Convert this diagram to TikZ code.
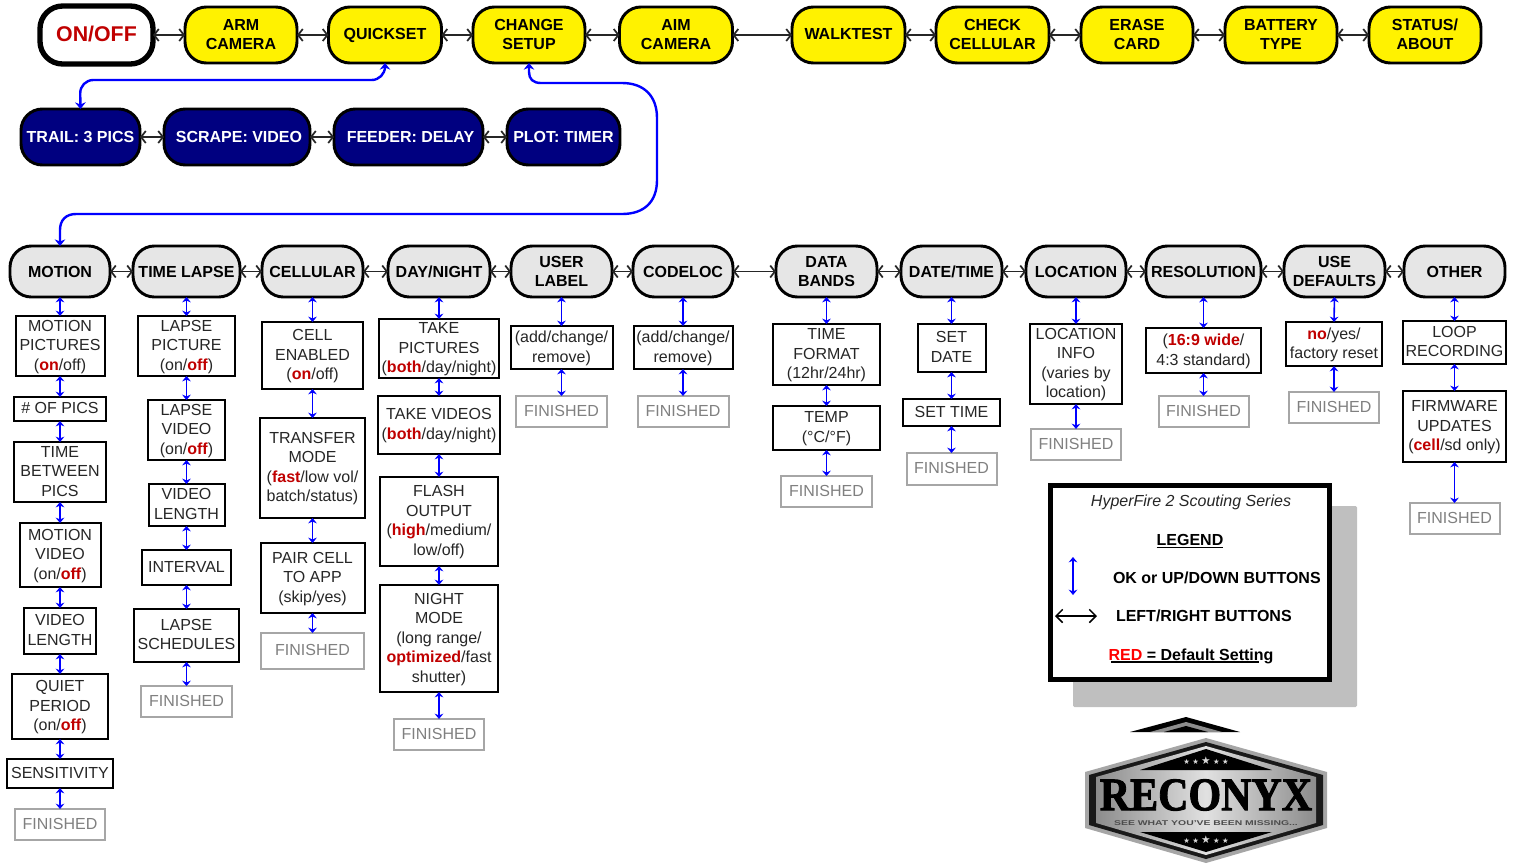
\documentclass[tikz,border=0pt]{standalone}
\usepackage{fontspec}
\setmainfont{Liberation Sans}
\newfontfamily\logofont[BoldFeatures={FakeBold=2}]{Liberation Serif}
\newfontfamily\starfont{DejaVu Sans}
\usetikzlibrary{arrows.meta}
\definecolor{dred}{HTML}{C00000}
\definecolor{navyfill}{HTML}{000080}
\definecolor{headgray}{HTML}{E6E6E6}
\definecolor{arrowblue}{HTML}{0000FF}
\newcommand{\rd}[1]{\textcolor{dred}{\textbf{#1}}}
% \bx{style}{name}{centre x}{width}{top}{bottom}{text}
\newcommand{\bx}[7]{\node[#1,minimum width=#4*.75pt,minimum height=(#6-#5)*.75pt] (#2) at (#3,{(#5+#6)/2}) {#7};}
\tikzset{
  x=.75pt,y=-.75pt,
  basenode/.style={align=center,inner sep=0pt,outer sep=0pt,text depth=1.4pt},
  yelnode/.style={basenode,draw=black,line width=2.2pt,fill=yellow,rounded corners=16pt,font=\fontsize{12}{14.2}\selectfont\bfseries},
  onnode/.style={basenode,draw=black,line width=4pt,fill=white,rounded corners=17pt,text=dred,font=\fontsize{16}{18}\selectfont\bfseries},
  navynode/.style={basenode,text depth=0pt,draw=black,line width=2.2pt,fill=navyfill,text=white,rounded corners=16pt,font=\fontsize{12}{14.2}\selectfont\bfseries},
  graynode/.style={basenode,text depth=0pt,draw=black,line width=2.2pt,fill=headgray,rounded corners=16pt,font=\fontsize{12}{14.8}\selectfont\bfseries},
  setbox/.style={basenode,draw=black,line width=1.5pt,fill=white,text=black!85,font=\fontsize{12}{14.6}\selectfont},
  finbox/.style={basenode,draw=black!35,line width=1.5pt,fill=white,text=black!50,font=\fontsize{12}{14.6}\selectfont},
  hlink/.style={black!85,line width=1.3pt,{Straight Barb[length=3.5pt,width=9pt]}-{Straight Barb[length=3.5pt,width=9pt]}},
  vlink/.style={arrowblue,line width=1.2pt,{Stealth[length=4pt,width=6.5pt]}-{Stealth[length=4pt,width=6.5pt]}},
  buslink/.style={arrowblue,line width=1.8pt,{Stealth[length=5pt,width=8pt]}-{Stealth[length=5pt,width=8pt]}},
  legtext/.style={inner sep=0pt,outer sep=0pt,text=black,font=\fontsize{12}{14}\selectfont\bfseries},
}
\begin{document}
\begin{tikzpicture}
\useasboundingbox (0,0) rectangle (1518,865);
% top row
\bx{onnode}{onoff}{96.5}{113}{6}{64}{ON/OFF}
\bx{yelnode}{arm}{241}{112}{7}{63}{ARM\\CAMERA}
\bx{yelnode}{quick}{385}{113}{7}{63}{QUICKSET}
\bx{yelnode}{change}{529}{112}{7}{63}{CHANGE\\SETUP}
\bx{yelnode}{aim}{676}{113}{7}{63}{AIM\\CAMERA}
\bx{yelnode}{walk}{848.5}{113}{7}{63}{WALKTEST}
\bx{yelnode}{check}{992.5}{113}{7}{63}{CHECK\\CELLULAR}
\bx{yelnode}{erase}{1137}{112}{7}{63}{ERASE\\CARD}
\bx{yelnode}{batt}{1281}{112}{7}{63}{BATTERY\\TYPE}
\bx{yelnode}{status}{1425}{112}{7}{63}{STATUS/\\ABOUT}
\foreach \a/\b in {onoff/arm,arm/quick,quick/change,change/aim,aim/walk,walk/check,check/erase,erase/batt,batt/status}
  \draw[hlink] (\a.east) -- (\b.west);
% quickset row
\bx{navynode}{trail}{80.5}{119}{109}{165}{TRAIL: 3 PICS}
\bx{navynode}{scrape}{237}{146}{109}{165}{\hspace*{3pt}SCRAPE: VIDEO}
\bx{navynode}{feeder}{408.5}{149}{109}{165}{\hspace*{3pt}FEEDER: DELAY}
\bx{navynode}{plot}{563.5}{113}{109}{165}{PLOT: TIMER}
\foreach \a/\b in {trail/scrape,scrape/feeder,feeder/plot}
  \draw[hlink] (\a.east) -- (\b.west);
% setup headers
\bx{graynode}{motion}{60}{100}{246}{297}{MOTION}
\bx{graynode}{lapse}{186.5}{107}{246}{297}{TIME LAPSE}
\bx{graynode}{cell}{312.5}{101}{246}{297}{CELLULAR}
\bx{graynode}{day}{439}{102}{246}{297}{DAY/NIGHT}
\bx{graynode}{user}{561.5}{101}{246}{297}{USER\\LABEL}
\bx{graynode}{code}{683}{100}{246}{297}{CODELOC}
\bx{graynode}{bands}{826.5}{101}{246}{297}{DATA\\BANDS}
\bx{graynode}{date}{951.5}{101}{246}{297}{DATE/TIME}
\bx{graynode}{loc}{1076}{100}{246}{297}{LOCATION}
\bx{graynode}{res}{1203.5}{115}{246}{297}{RESOLUTION}
\bx{graynode}{defs}{1334.5}{101}{246}{297}{USE\\DEFAULTS}
\bx{graynode}{other}{1454.5}{101}{246}{297}{OTHER}
\foreach \a/\b in {motion/lapse,lapse/cell,cell/day,day/user,user/code,code/bands,bands/date,date/loc,loc/res,res/defs,defs/other}
  \draw[hlink] (\a.east) -- (\b.west);
% column 1
\bx{setbox}{a1}{60}{89}{316}{376}{MOTION\\PICTURES\\(\rd{on}/off)}
\bx{setbox}{a2}{60}{92}{397}{421}{\# OF PICS}
\bx{setbox}{a3}{60}{92}{442}{502}{TIME\\BETWEEN\\PICS}
\bx{setbox}{a4}{60}{81}{523}{587}{MOTION\\VIDEO\\(on/\rd{off})}
\bx{setbox}{a5}{60}{72}{608}{654}{VIDEO\\LENGTH}
\bx{setbox}{a6}{60}{96}{674}{739}{QUIET\\PERIOD\\(on/\rd{off})}
\bx{setbox}{a7}{60}{106}{759}{788}{SENSITIVITY}
\bx{finbox}{a8}{60}{90}{809}{840}{FINISHED}
\foreach \a/\b in {motion/a1,a1/a2,a2/a3,a3/a4,a4/a5,a5/a6,a6/a7,a7/a8}
  \draw[vlink] (\a.south) -- (\b.north);
% column 2
\bx{setbox}{b1}{186.5}{97}{316}{376}{LAPSE\\PICTURE\\(on/\rd{off})}
\bx{setbox}{b2}{186.5}{77}{400}{460}{LAPSE\\VIDEO\\(on/\rd{off})}
\bx{setbox}{b3}{186.5}{76}{484}{526}{VIDEO\\LENGTH}
\bx{setbox}{b4}{186.5}{89}{550}{585}{INTERVAL}
\bx{setbox}{b5}{186.5}{105}{609}{662}{LAPSE\\SCHEDULES}
\bx{finbox}{b6}{186.5}{91}{686}{717}{FINISHED}
\foreach \a/\b in {lapse/b1,b1/b2,b2/b3,b3/b4,b4/b5,b5/b6}
  \draw[vlink] (\a.south) -- (\b.north);
% column 3
\bx{setbox}{c1}{312.5}{101}{322}{389}{CELL\\ENABLED\\(\rd{on}/off)}
\bx{setbox}{c2}{312.5}{105}{418}{518}{TRANSFER\\MODE\\(\rd{fast}/low vol/\\batch/status)}
\bx{setbox}{c3}{312.5}{104}{543}{613}{PAIR CELL\\TO APP\\(skip/yes)}
\bx{finbox}{c4}{312.5}{103}{633}{669}{FINISHED}
\foreach \a/\b in {cell/c1,c1/c2,c2/c3,c3/c4}
  \draw[vlink] (\a.south) -- (\b.north);
% column 4
\bx{setbox}{d1}{439}{120}{319}{378}{TAKE\\PICTURES\\(\rd{both}/day/night)}
\bx{setbox}{d2}{439}{122}{396}{454}{TAKE VIDEOS\\(\rd{both}/day/night)}
\bx{setbox}{d3}{439}{118}{477}{566}{FLASH\\OUTPUT\\(\rd{high}/medium/\\low/off)}
\bx{setbox}{d4}{439}{118}{585}{692}{NIGHT\\MODE\\(long range/\\\rd{optimized}/fast\\shutter)}
\bx{finbox}{d5}{439}{90}{719}{750}{FINISHED}
\foreach \a/\b in {day/d1,d1/d2,d2/d3,d3/d4,d4/d5}
  \draw[vlink] (\a.south) -- (\b.north);
% column 5
\bx{setbox}{e1}{561.5}{102}{326}{369}{(add/change/\\remove)}
\bx{finbox}{e2}{561.5}{91}{396}{427}{FINISHED}
\foreach \a/\b in {user/e1,e1/e2}
  \draw[vlink] (\a.south) -- (\b.north);
% column 6
\bx{setbox}{f1}{683}{99}{326}{369}{(add/change/\\remove)}
\bx{finbox}{f2}{683}{91}{396}{427}{FINISHED}
\foreach \a/\b in {code/f1,f1/f2}
  \draw[vlink] (\a.south) -- (\b.north);
% column 7
\bx{setbox}{g1}{826.5}{107}{324}{385}{TIME\\FORMAT\\(12hr/24hr)}
\bx{setbox}{g2}{826.5}{107}{406}{450}{TEMP\\(°C/°F)}
\bx{finbox}{g3}{826.5}{91}{476}{507}{FINISHED}
\foreach \a/\b in {bands/g1,g1/g2,g2/g3}
  \draw[vlink] (\a.south) -- (\b.north);
% column 8
\bx{setbox}{h1}{951.5}{68}{324}{372}{SET\\DATE}
\bx{setbox}{h2}{951.5}{97}{399}{426}{SET TIME}
\bx{finbox}{h3}{951.5}{90}{453}{485}{FINISHED}
\foreach \a/\b in {date/h1,h1/h2,h2/h3}
  \draw[vlink] (\a.south) -- (\b.north);
% column 9
\bx{setbox}{i1}{1076}{92}{324}{404}{LOCATION\\INFO\\(varies by\\location)}
\bx{finbox}{i2}{1076}{90}{429}{460}{FINISHED}
\foreach \a/\b in {loc/i1,i1/i2}
  \draw[vlink] (\a.south) -- (\b.north);
% column 10
\bx{setbox}{j1}{1203.5}{115}{328}{373}{(\rd{16:9 wide}/\\4:3 standard)}
\bx{finbox}{j2}{1203.5}{90}{396}{427}{FINISHED}
\foreach \a/\b in {res/j1,j1/j2}
  \draw[vlink] (\a.south) -- (\b.north);
% column 11
\bx{setbox}{k1}{1334}{96}{322}{366}{\rd{no}/yes/\\factory reset}
\bx{finbox}{k2}{1334}{90}{392}{423}{FINISHED}
\foreach \a/\b in {defs/k1,k1/k2}
  \draw[vlink] (\a.south) -- (\b.north);
% column 12
\bx{setbox}{l1}{1454.5}{103}{321}{364}{LOOP\\RECORDING}
\bx{setbox}{l2}{1454.5}{103}{391}{462}{FIRMWARE\\UPDATES\\(\rd{cell}/sd only)}
\bx{finbox}{l3}{1454.5}{90}{503}{534}{FINISHED}
\foreach \a/\b in {other/l1,l1/l2,l2/l3}
  \draw[vlink] (\a.south) -- (\b.north);
% long blue links
\draw[buslink,rounded corners=10pt] (quick.south) |- (80,80) -- (trail.north);
\draw[buslink] (change.south) -- (529,72) .. controls (529,79) and (533,83) .. (541,83)
  -- (622,83) .. controls (644,83) and (657,96) .. (657,118)
  -- (657,180) .. controls (657,202) and (644,214) .. (622,214)
  -- (76,214) .. controls (66,214) and (60,220) .. (60,230) -- (motion.north);
% legend
\fill[black!25,rounded corners=1pt] (1073,506) rectangle (1357,707);
\node[basenode,draw=black,line width=3.8pt,fill=white,minimum width=279*.75pt,minimum height=194*.75pt] (legend) at (1190,582.5) {};
\node[legtext,font=\fontsize{12}{14}\selectfont\itshape,text=black!85] (lt1) at (1191,502) {HyperFire 2 Scouting Series};
\node[legtext] (lt2) at (1190,541) {\underline{LEGEND}};
\coordinate (lu) at (1073,557); \coordinate (ld) at (1073,595);
\draw[vlink] (lu) -- (ld);
\node[legtext,anchor=west] (lt3) at (1113,578) {OK or UP/DOWN BUTTONS};
\coordinate (ll) at (1055,616); \coordinate (lr) at (1097,616);
\draw[black,line width=1.1pt,{Straight Barb[length=5pt,width=10pt]}-{Straight Barb[length=5pt,width=10pt]}] (ll) -- (lr);
\node[legtext,anchor=west] (lt4) at (1116,616) {LEFT/RIGHT BUTTONS};
\node[legtext] (lt5) at (1191,656) {\textcolor{red}{RED} = Default Setting};
\draw[black,line width=1.2pt] (1111,662) -- (1259,662);
% logo
\fill[black] (1186,717) -- (1240,732) -- (1130,732) -- cycle;
\fill[black!45] (1186,722) -- (1222,732) -- (1150,732) -- cycle;
\fill[black] (1186,726) -- (1208,732) -- (1164,732) -- cycle;
\fill[black!35] (1206,738) -- (1327,772) -- (1327,828) -- (1206,863) -- (1085,828) -- (1085,772) -- cycle;
\fill[black!90] (1206,742) -- (1323,775) -- (1323,825) -- (1206,859) -- (1089,825) -- (1089,775) -- cycle;
\shade[left color=black!45,right color=black!45,middle color=black!12] (1206,746) -- (1316,777) -- (1316,823) -- (1206,855) -- (1096,823) -- (1096,777) -- cycle;
\fill[black] (1206,749) -- (1272,770) -- (1140,770) -- cycle;
\fill[black] (1206,852) -- (1272,832) -- (1140,832) -- cycle;
\node[inner sep=0pt,text=white!85!black,font=\starfont\fontsize{5.5}{6}\selectfont] (s1) at (1206,761) {★ ★ {\fontsize{8}{8}\selectfont★} ★ ★};
\node[inner sep=0pt,text=white!85!black,font=\starfont\fontsize{5.5}{6}\selectfont] (s2) at (1206,840) {★ ★ {\fontsize{8}{8}\selectfont★} ★ ★};
\node[inner sep=0pt,text=black,font=\logofont\fontsize{35}{36}\selectfont\bfseries,xscale=.9,transform shape] (logo) at (1206,795) {RECONYX};
\node[inner sep=0pt,text=black!70,font=\fontsize{5.2}{6}\selectfont\bfseries,xscale=1.5,transform shape] (tag) at (1206,823) {SEE WHAT YOU'VE BEEN MISSING...};
\end{tikzpicture}
\end{document}
